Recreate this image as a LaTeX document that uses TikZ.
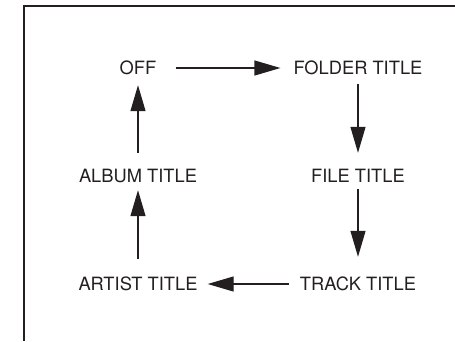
\documentclass[tikz,border=0pt]{standalone}
\usepackage{fontspec}
\setmainfont{TeX Gyre Heros}
\usetikzlibrary{arrows.meta, positioning}
\definecolor{inkblack}{RGB}{35,31,32}

\begin{document}
\begin{tikzpicture}[
    x=1pt, y=-1pt,
    mode/.style={inner sep=0pt, text height=13pt, text depth=0pt, font=\fontsize{18.3}{20}\selectfont, text=inkblack},
    arrow/.style={-{Triangle[length=26pt, width=15pt]}, line width=1.2pt, draw=inkblack},
    frame/.style={line width=2pt, draw=inkblack}
]
    \useasboundingbox (0,0) rectangle (455,341);

    % Panel edge
    \draw[frame] (24,341) -- (24,5.5) -- (455,5.5);

    % Display modes
    \node[mode] (off) at (138,68) {OFF};
    \node[mode] (folder) at (358,68) {FOLDER TITLE};
    \node[mode] (album) at (138,176) {ALBUM TITLE};
    \node[mode] (file) at (358,176) {FILE TITLE};
    \node[mode] (artist) at (138,284) {ARTIST TITLE};
    \node[mode] (track) at (358,284) {TRACK TITLE};

    % Arrows - cycle
    \draw[arrow, shorten <=19pt, shorten >=13pt] (off) -- (folder);
    \draw[arrow, shorten <=9.5pt, shorten >=16.5pt] (folder) -- (file);
    \draw[arrow, shorten <=6.5pt, shorten >=20.5pt] (file) -- (track);
    \draw[arrow, shorten <=11pt, shorten >=10pt] (track) -- (artist);
    \draw[arrow, shorten <=18.5pt, shorten >=7.5pt] (artist) -- (album);
    \draw[arrow, shorten <=16.5pt, shorten >=10.5pt] (album) -- (off);

\end{tikzpicture}
\end{document}
